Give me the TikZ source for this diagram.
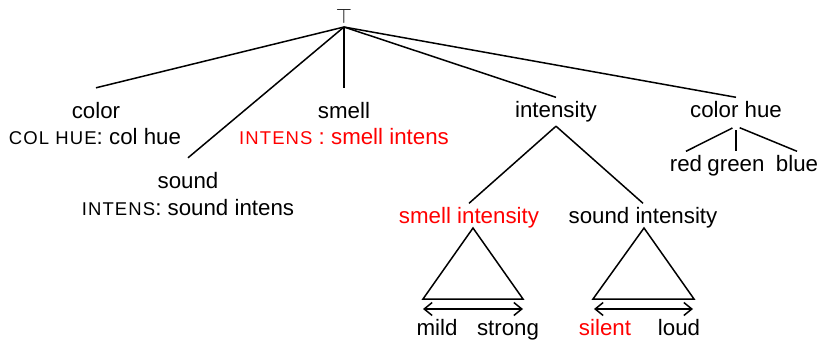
\documentclass[tikz,border=0pt]{standalone}
\usepackage{fontspec}
\setmainfont{Liberation Sans}
\usetikzlibrary{arrows.meta}
\newcommand\smcx[1]{{\fontsize{18.5}{20}\selectfont\addfontfeature{LetterSpace=6}#1}}
\begin{document}
\begin{tikzpicture}[x=1pt,y=-1pt,
  lbl/.style={anchor=base, font=\fontsize{22.3}{24}\selectfont, text height=15pt, text depth=4.5pt, inner xsep=0pt, inner ysep=4.5pt},
  hi/.style={text=red},
  edge/.style={line width=1.5pt},
  dbl/.style={line width=1.5pt, {Straight Barb[length=8pt,width=13pt]}-{Straight Barb[length=8pt,width=13pt]}}
]
\useasboundingbox (0,0) rectangle (820,340);

\node[anchor=south, inner xsep=0pt, inner ysep=3pt, font=\fontsize{20}{22}\selectfont] (root) at (344,27) {$\top$};

\node[lbl, inner ysep=15pt] (color) at (96,118) {color};
\node[lbl] (colorsub) at (95,144) {\smcx{COL HUE}: col hue};
\node[lbl, inner ysep=15pt] (sound) at (188,188) {sound};
\node[lbl] (soundsub) at (188,215) {\smcx{INTENS}: sound intens};
\node[lbl, inner ysep=15pt] (smell) at (344,118) {smell};
\node[lbl, hi] (smellsub) at (344,144) {\smcx{INTENS} : smell intens};
\node[lbl] (intensity) at (556,117) {intensity};
\node[lbl] (colorhue) at (736,117) {color hue};
\node[lbl] (red) at (686,171) {red};
\node[lbl] (green) at (736,171) {green};
\node[lbl] (blue) at (797,171) {blue};
\node[lbl, hi] (smint) at (469,223) {smell intensity};
\node[lbl] (soint) at (643,223) {sound intensity};
\node[lbl] (mild) at (437,335) {mild};
\node[lbl] (strong) at (508,335) {strong};
\node[lbl, hi] (silent) at (605,335) {silent};
\node[lbl] (loud) at (679,335) {loud};

\foreach \t in {color,sound,smell,intensity,colorhue}
  \draw[edge] (root.south) -- (\t.north);
\foreach \t in {red,green,blue}
  \draw[edge, shorten <=4pt] (colorhue.south) -- (\t.north);
\draw[edge] (intensity.south) -- (smint.north);
\draw[edge] (intensity.south) -- (soint.north);

% triangles
\coordinate (t1a) at (473,228);
\coordinate (t1l) at (423,299);
\coordinate (t1r) at (523,299);
\coordinate (t2a) at (644,228);
\coordinate (t2l) at (593,299);
\coordinate (t2r) at (694,299);
\draw[edge, line join=miter] (t1a) -- (t1l) -- (t1r) -- cycle;
\draw[edge, line join=miter] (t2a) -- (t2l) -- (t2r) -- cycle;

% double arrows
\coordinate (a1l) at (423,309);
\coordinate (a1r) at (523,309);
\coordinate (a2l) at (594,309);
\coordinate (a2r) at (693,309);
\draw[dbl] (a1l) -- (a1r);
\draw[dbl] (a2l) -- (a2r);
\end{tikzpicture}
\end{document}
